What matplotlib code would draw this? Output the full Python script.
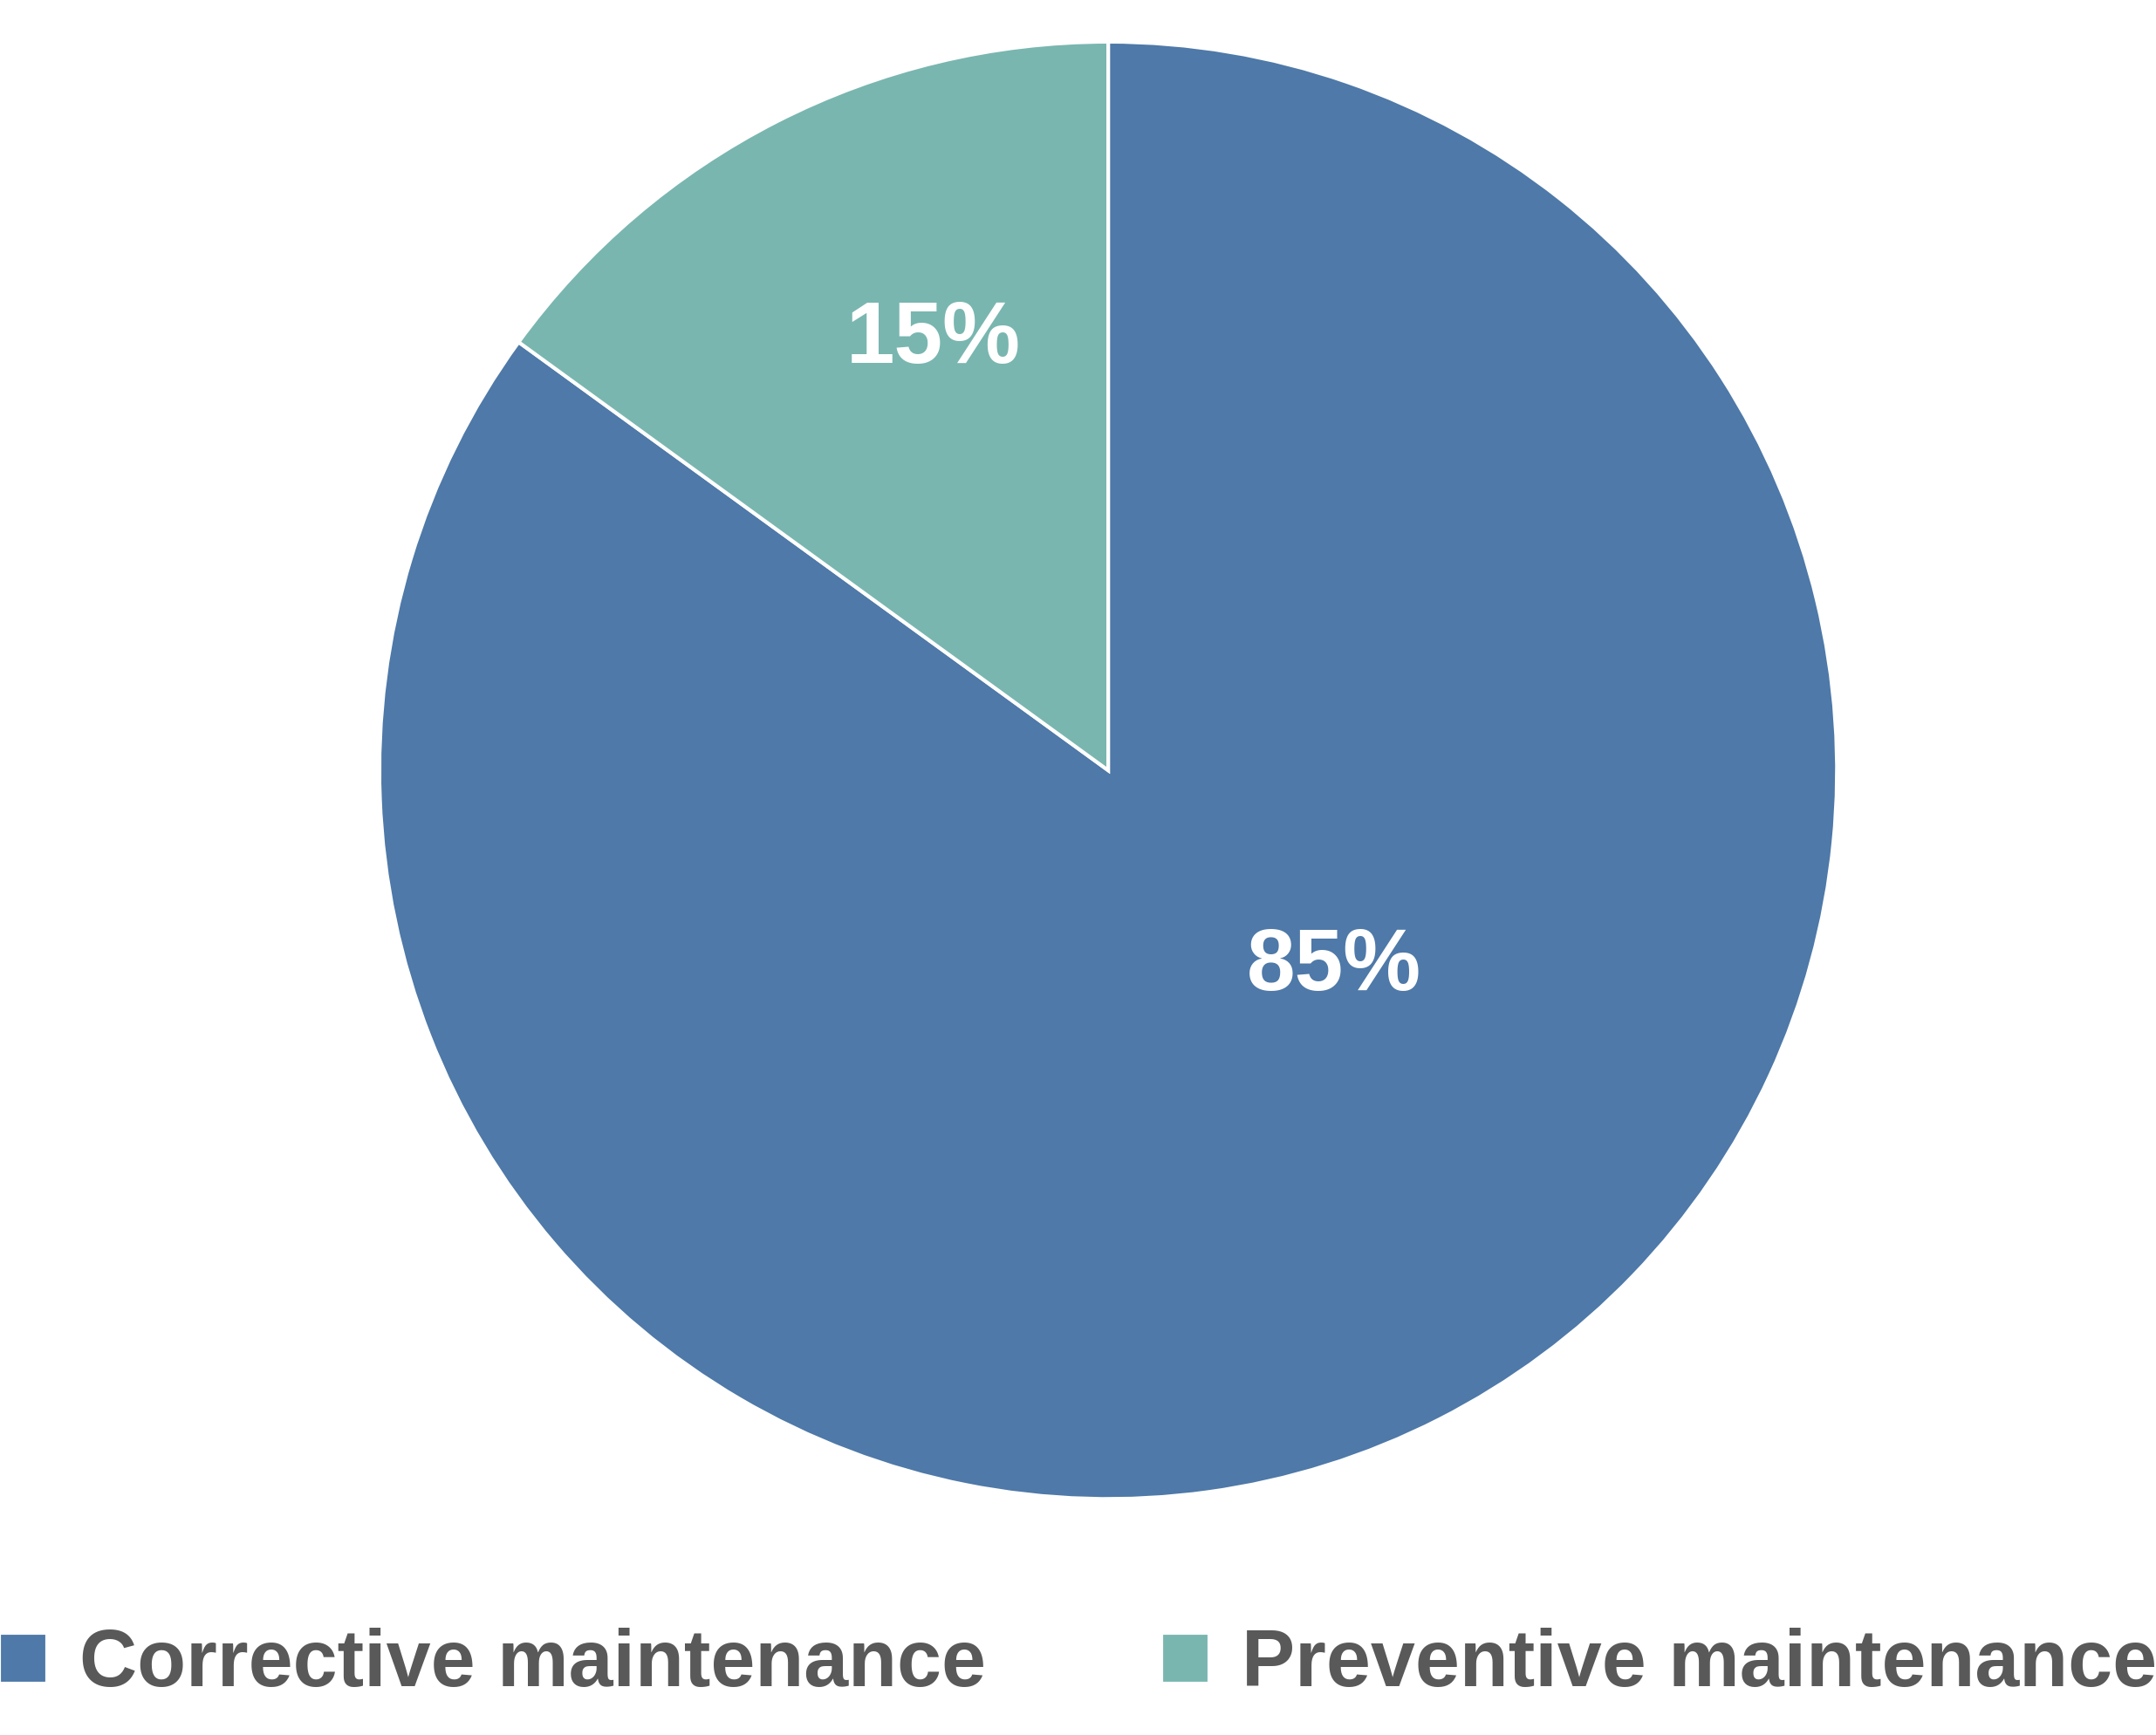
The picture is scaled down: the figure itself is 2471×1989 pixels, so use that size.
import matplotlib
matplotlib.use("Agg")
import matplotlib.pyplot as plt

labels = ["Corrective maintenance", "Preventive maintenance"]
shares = [85, 15]
colors = ["#4E79A8", "#79B6B0"]
label_pos = [(0.31, -0.27), (-0.24, 0.59)]

plt.rcParams["font.family"] = ["Liberation Sans Narrow", "Liberation Sans", "DejaVu Sans"]

fig = plt.figure(figsize=(24.71, 19.89), dpi=100)
ax = fig.add_axes([0.176, 0.136, 0.676, 0.84])
wedges, _ = ax.pie(shares, colors=colors, startangle=90, counterclock=False,
                   radius=1.0, wedgeprops=dict(edgecolor="white", linewidth=3))
for v, (x, y) in zip(shares, label_pos):
    ax.text(x, y, f"{v}%", ha="center", va="center", color="white",
            fontsize=72, fontweight="bold")
ax.set_xlim(-1.0, 1.0)
ax.set_ylim(-1.0, 1.0)
ax.set_aspect("equal")

fig.legend(wedges, labels, loc="center", bbox_to_anchor=(0.5, 0.04), ncol=2,
           frameon=False, prop=dict(size=66, weight="bold"), labelcolor="#595959",
           handlelength=0.6, handleheight=0.6, handletextpad=0.4, columnspacing=2.2)
fig.savefig("out.png", dpi=100)
